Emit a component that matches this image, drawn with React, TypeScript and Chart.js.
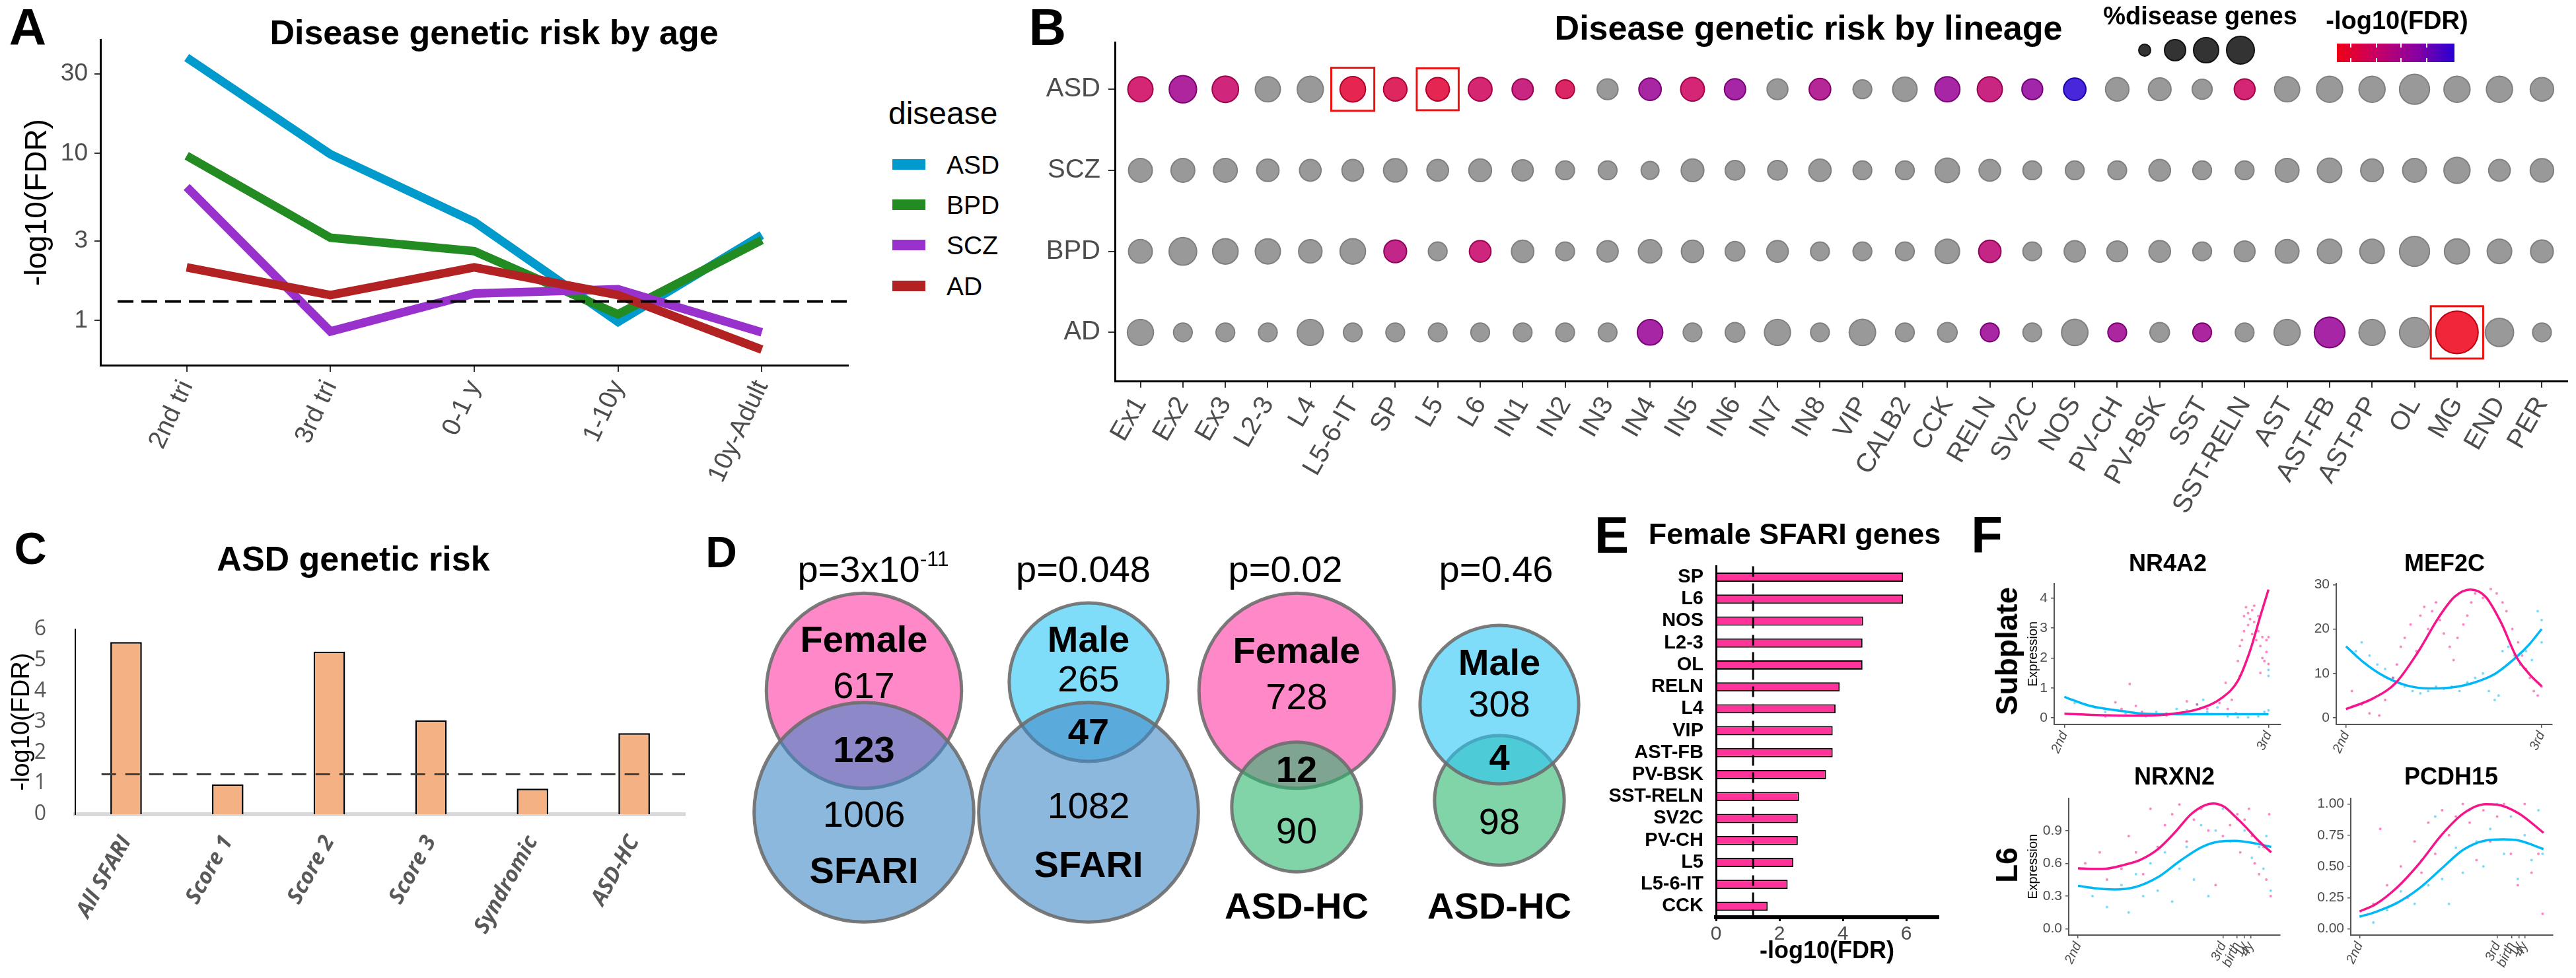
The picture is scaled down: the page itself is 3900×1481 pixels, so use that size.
import React, { useEffect, useRef } from "react";
import { Chart, registerables } from "chart.js";

Chart.register(...registerables);

const SANS = "'Liberation Sans', Arial, Helvetica, sans-serif";
const SEGOE = "'Open Sans', 'Noto Sans', sans-serif";
Chart.defaults.font.family = SANS;

type Pt = [number, number];

// ---------------- Panel A: disease genetic risk by age ----------------
const AGE_STAGES = ["2nd tri", "3rd tri", "0-1 y", "1-10y", "10y-Adult"];
const DISEASES = ["ASD", "BPD", "SCZ", "AD"];
const DISEASE_COLORS = ["#009ACD", "#228B22", "#9932CC", "#B22222"];
const RISK_ASD = [37.6, 9.9, 3.9, 0.98, 3.25];
const RISK_BPD = [9.7, 3.13, 2.6, 1.09, 3.03];
const RISK_SCZ = [6.3, 0.86, 1.45, 1.54, 0.85];
const RISK_AD = [2.08, 1.42, 2.08, 1.42, 0.67];
const AGE_SERIES = [RISK_ASD, RISK_BPD, RISK_SCZ, RISK_AD];
const AGE_Y_TICKS = [1, 3, 10, 30];
const FDR_LINE = 1.3;

// ---------------- Panel B: disease genetic risk by lineage ----------------
const LINEAGES = ["Ex1", "Ex2", "Ex3", "L2-3", "L4", "L5-6-IT", "SP", "L5", "L6", "IN1", "IN2", "IN3", "IN4", "IN5", "IN6", "IN7", "IN8", "VIP", "CALB2", "CCK", "RELN", "SV2C", "NOS", "PV-CH", "PV-BSK", "SST", "SST-RELN", "AST", "AST-FB", "AST-PP", "OL", "MG", "END", "PER"];
const B_ROWS = ["AD", "BPD", "SCZ", "ASD"]; // bottom -> top
// % disease genes per lineage
const PCT_ASD = [4.0, 4.7, 4.4, 4.0, 4.3, 4.1, 3.5, 3.5, 3.6, 2.9, 2.3, 2.8, 3.2, 3.6, 2.9, 2.8, 3.0, 2.3, 3.8, 4.0, 4.0, 2.8, 3.2, 3.5, 3.3, 2.6, 2.8, 4.0, 4.3, 4.3, 5.6, 4.3, 4.3, 3.5];
const PCT_SCZ = [3.6, 3.6, 3.6, 3.2, 3.0, 3.0, 3.5, 3.0, 3.3, 2.9, 2.3, 2.3, 2.1, 3.3, 2.5, 2.5, 3.2, 2.3, 2.3, 3.8, 3.0, 2.3, 2.3, 2.3, 3.0, 2.3, 2.3, 3.6, 3.8, 3.3, 3.6, 4.3, 3.0, 3.5];
const PCT_BPD = [3.6, 4.8, 4.1, 4.0, 3.5, 4.1, 3.3, 2.3, 3.0, 3.2, 2.3, 2.9, 3.5, 3.2, 2.5, 3.0, 2.3, 2.3, 2.3, 3.8, 3.2, 2.3, 2.9, 2.8, 3.0, 2.3, 2.8, 3.6, 3.8, 3.8, 5.6, 4.0, 3.8, 3.3];
const PCT_AD = [4.3, 2.3, 2.3, 2.3, 4.3, 2.3, 2.3, 2.3, 2.3, 2.3, 2.3, 2.3, 4.1, 2.3, 2.5, 4.3, 2.3, 4.4, 2.3, 2.5, 2.3, 2.3, 4.4, 2.3, 2.5, 2.3, 2.3, 4.3, 5.8, 4.3, 5.6, 10.9, 5.0, 2.3];
// -log10(FDR) where significant (null = not significant, drawn grey)
const N = null;
const SIG_ASD = [3.3, 5.0, 3.5, N, N, 2.1, 2.6, 2.2, 3.2, 3.8, 2.8, N, 5.2, 3.3, 5.3, N, 4.7, N, N, 5.3, 3.8, 5.5, 8.0, N, N, N, 3.3, N, N, N, N, N, N, N];
const SIG_SCZ = [N, N, N, N, N, N, N, N, N, N, N, N, N, N, N, N, N, N, N, N, N, N, N, N, N, N, N, N, N, N, N, N, N, N];
const SIG_BPD = [N, N, N, N, N, N, 4.1, N, 3.6, N, N, N, N, N, N, N, N, N, N, N, 4.0, N, N, N, N, N, N, N, N, N, N, N, N, N];
const SIG_AD = [N, N, N, N, N, N, N, N, N, N, N, N, 5.3, N, N, N, N, N, N, N, 5.2, N, N, 5.1, N, 5.1, N, N, 5.3, N, N, 1.4, N, N];
const B_PCT = [PCT_AD, PCT_BPD, PCT_SCZ, PCT_ASD];
const B_SIG = [SIG_AD, SIG_BPD, SIG_SCZ, SIG_ASD];
const HIGHLIGHTS: [string, string][] = [["ASD", "L5-6-IT"], ["ASD", "L5"], ["AD", "MG"]];
const SIZE_LEGEND_PCT = [1, 3, 4, 5];
const FDR_COLOR_MIN = 1.3;
const FDR_COLOR_MAX = 8.0;

// ---------------- Panel C: ASD genetic risk ----------------
const SFARI_CATS = ["All SFARI", "Score 1", "Score 2", "Score 3", "Syndromic", "ASD-HC"];
const SFARI_RISK = [5.59, 0.97, 5.28, 3.05, 0.83, 2.63];

// ---------------- Panel D: Venn diagrams ----------------
const VENN_P_BASE = ["3x10", "0.048", "0.02", "0.46"];
const VENN_P_EXP = ["-11", "", "", ""];
const VENN_TOP = ["Female", "Male", "Female", "Male"];
const VENN_TOP_ONLY = [617, 265, 728, 308];
const VENN_OVERLAP = [123, 47, 12, 4];
const VENN_BOTTOM = ["SFARI", "SFARI", "ASD-HC", "ASD-HC"];
const VENN_BOTTOM_ONLY = [1006, 1082, 90, 98];

// ---------------- Panel E: female SFARI genes ----------------
const E_LINEAGES = ["SP", "L6", "NOS", "L2-3", "OL", "RELN", "L4", "VIP", "AST-FB", "PV-BSK", "SST-RELN", "SV2C", "PV-CH", "L5", "L5-6-IT", "CCK"];
const E_RISK = [5.9, 5.9, 4.64, 4.62, 4.62, 3.9, 3.77, 3.68, 3.68, 3.47, 2.62, 2.58, 2.58, 2.44, 2.26, 1.63];
const E_LINE = 1.17;

// ---------------- Panel F: expression trajectories ----------------
const SUBPLATE_X_TICKS = [0, 1];
const SUBPLATE_X_LABELS = ["2nd", "3rd"];
const L6_X_LABELS = ["2nd", "3rd", "birth", "1y", "4y"];
const NRXN2_X_TICKS = [0, 1, 1.099, 1.149, 1.191];
const PCDH15_X_TICKS = [0, 1, 1.106, 1.157, 1.2];

const NR4A2_PINK_FIT: Pt[] = [[0, 0.14], [0.18, 0.09], [0.39, 0.07], [0.56, 0.16], [0.66, 0.3], [0.77, 0.66], [0.85, 1.24], [0.91, 2.25], [0.96, 3.4], [1, 4.29]];
const NR4A2_BLUE_FIT: Pt[] = [[0, 0.7], [0.12, 0.41], [0.29, 0.22], [0.39, 0.14], [0.61, 0.12], [0.82, 0.12], [1, 0.12]];
const NR4A2_PINK_DOTS: Pt[] = [[0.2, 0.05], [0.25, 0.52], [0.28, 0.3], [0.32, 1.13], [0.35, 0.4], [0.38, 0.2], [0.45, 0.1], [0.5, 0.08], [0.55, 0.15], [0.6, 0.55], [0.65, 0.45], [0.7, 0.3], [0.72, 0.12], [0.76, 0.5], [0.79, 1.17], [0.8, 0.3], [0.82, 0.6], [0.84, 0.15], [0.85, 1.9], [0.86, 1.4], [0.86, 2.4], [0.87, 2.6], [0.88, 3.4], [0.88, 2.9], [0.89, 3.7], [0.9, 3.5], [0.9, 3.1], [0.91, 3.3], [0.92, 2.8], [0.92, 3.6], [0.93, 3.2], [0.93, 3.75], [0.94, 2.6], [0.95, 3.4], [0.95, 2.9], [0.96, 1.5], [0.96, 2.4], [0.97, 2.0], [0.97, 2.7], [0.98, 1.9], [0.99, 2.6], [0.99, 2.2], [1.0, 2.7], [1.0, 1.8]];
const NR4A2_BLUE_DOTS: Pt[] = [[0.05, 0.5], [0.1, 0.45], [0.15, 0.35], [0.2, 0.2], [0.3, 0.15], [0.4, 0.05], [0.45, 0.2], [0.5, 0.15], [0.55, 0.3], [0.6, 0.25], [0.65, 0.45], [0.68, 0.6], [0.7, 0.2], [0.75, 0.35], [0.8, 0.05], [0.85, 0.02], [0.9, 0.02], [0.95, 0.05], [0.98, 0.2], [1.0, 0.25], [1.0, 1.4], [1.0, 1.6]];

const MEF2C_PINK_FIT: Pt[] = [[0, 1.95], [0.14, 4.4], [0.253, 7.8], [0.365, 14.6], [0.478, 22.9], [0.556, 27.3], [0.635, 28.9], [0.713, 27.3], [0.792, 21.5], [0.871, 13.7], [0.938, 9.8], [1.0, 7.1]];
const MEF2C_BLUE_FIT: Pt[] = [[0, 16.1], [0.084, 12.7], [0.197, 9.3], [0.309, 7.3], [0.421, 6.6], [0.534, 6.8], [0.646, 7.8], [0.758, 9.8], [0.871, 13.7], [0.938, 16.6], [1.0, 20.0]];
const MEF2C_PINK_DOTS: Pt[] = [[0.03, 6], [0.08, 3], [0.12, 1], [0.17, 0.5], [0.2, 4], [0.24, 9], [0.26, 12], [0.28, 16], [0.3, 18], [0.33, 21], [0.36, 15], [0.38, 23], [0.4, 25], [0.42, 20], [0.44, 24], [0.46, 26], [0.48, 22], [0.5, 19], [0.53, 16], [0.55, 13], [0.57, 18], [0.6, 21], [0.62, 23], [0.64, 26], [0.66, 28], [0.7, 27], [0.74, 29], [0.77, 28], [0.8, 26], [0.82, 24], [0.85, 20], [0.88, 17], [0.9, 14], [0.92, 11], [0.94, 9], [0.96, 6], [0.98, 5], [1.0, 7]];
const MEF2C_BLUE_DOTS: Pt[] = [[0.05, 15], [0.08, 17], [0.12, 14], [0.16, 12], [0.2, 11], [0.24, 9], [0.3, 7], [0.34, 6], [0.38, 5.5], [0.42, 6], [0.46, 7], [0.5, 6.5], [0.54, 7], [0.58, 6], [0.62, 8], [0.66, 9], [0.7, 10], [0.73, 6], [0.76, 4], [0.78, 5], [0.8, 15], [0.83, 16], [0.86, 14], [0.89, 12], [0.92, 15], [0.95, 13], [0.98, 24], [1.0, 22], [1.0, 17]];

const NRXN2_PINK_FIT: Pt[] = [[0, 0.553], [0.172, 0.549], [0.324, 0.588], [0.43, 0.632], [0.552, 0.73], [0.673, 0.89], [0.78, 1.05], [0.871, 1.13], [0.932, 1.149], [1.008, 1.12], [1.084, 1.03], [1.16, 0.93], [1.236, 0.82], [1.334, 0.7]];
const NRXN2_BLUE_FIT: Pt[] = [[0, 0.394], [0.126, 0.37], [0.248, 0.36], [0.4, 0.384], [0.552, 0.473], [0.704, 0.622], [0.856, 0.75], [0.977, 0.8], [1.084, 0.807], [1.236, 0.78], [1.334, 0.75]];
const NRXN2_PINK_DOTS: Pt[] = [[0.05, 0.6], [0.15, 0.7], [0.2, 0.45], [0.3, 0.55], [0.35, 0.85], [0.4, 0.7], [0.45, 0.5], [0.5, 1.1], [0.55, 0.75], [0.6, 0.95], [0.65, 1.05], [0.7, 1.14], [0.75, 0.8], [0.8, 1.0], [0.85, 1.1], [0.9, 0.9], [0.95, 0.4], [1.0, 0.85], [1.05, 0.95], [1.1, 1.05], [1.12, 0.7], [1.15, 1.0], [1.18, 1.1], [1.2, 0.85], [1.22, 0.6], [1.25, 0.5], [1.28, 0.75], [1.3, 0.45], [1.32, 1.05], [1.33, 0.3]];
const NRXN2_BLUE_DOTS: Pt[] = [[0.1, 0.3], [0.2, 0.2], [0.3, 0.4], [0.35, 0.15], [0.4, 0.5], [0.45, 0.3], [0.5, 0.6], [0.55, 0.35], [0.6, 0.7], [0.65, 0.25], [0.7, 0.55], [0.75, 0.75], [0.8, 0.45], [0.85, 0.95], [0.9, 0.3], [0.95, 0.9], [1.0, 1.1], [1.05, 0.8], [1.1, 1.0], [1.15, 0.9], [1.2, 0.65], [1.25, 0.75], [1.28, 0.55], [1.3, 0.85], [1.33, 0.35]];

const PCDH15_PINK_FIT: Pt[] = [[0, 0.139], [0.115, 0.196], [0.276, 0.335], [0.436, 0.526], [0.596, 0.752], [0.756, 0.925], [0.917, 0.998], [0.997, 0.995], [1.157, 0.925], [1.337, 0.769]];
const PCDH15_BLUE_FIT: Pt[] = [[0, 0.097], [0.115, 0.135], [0.276, 0.21], [0.436, 0.326], [0.596, 0.483], [0.756, 0.635], [0.917, 0.708], [1.045, 0.717], [1.157, 0.708], [1.337, 0.639]];
const PCDH15_PINK_DOTS: Pt[] = [[0.1, 0.2], [0.15, 0.8], [0.2, 0.35], [0.3, 0.5], [0.35, 0.25], [0.4, 0.7], [0.45, 0.45], [0.5, 0.85], [0.55, 0.6], [0.6, 0.95], [0.65, 0.75], [0.7, 0.9], [0.75, 1.0], [0.8, 0.85], [0.85, 0.55], [0.9, 0.95], [0.95, 0.7], [1.0, 0.9], [1.05, 1.0], [1.1, 0.6], [1.15, 0.35], [1.2, 1.0], [1.25, 0.45], [1.3, 0.6], [1.33, 0.12]];
const PCDH15_BLUE_DOTS: Pt[] = [[0.1, 0.05], [0.2, 0.15], [0.3, 0.3], [0.4, 0.2], [0.45, 0.55], [0.5, 0.35], [0.55, 0.9], [0.6, 0.4], [0.65, 0.2], [0.7, 0.65], [0.75, 0.45], [0.8, 0.95], [0.85, 0.7], [0.9, 0.5], [0.95, 0.8], [1.0, 1.0], [1.05, 0.6], [1.1, 0.9], [1.15, 0.4], [1.2, 0.75], [1.25, 0.55], [1.3, 0.95], [1.33, 0.6]];

// ---------------- helpers ----------------
type Geo = { x1: number; y1: number; x2: number; y2: number; yw: number; xh: number; pt: number; pr: number };

function rectOf(g: Geo) {
  const left = g.x1 - g.yw;
  const top = g.y1 - g.pt;
  return { left, top, width: Math.round(g.x2 + g.pr - left), height: Math.round(g.y2 + g.xh - top) };
}

function base(g: Geo): any {
  return {
    animation: false,
    responsive: false,
    maintainAspectRatio: false,
    devicePixelRatio: 1,
    events: [],
    layout: { autoPadding: false, padding: { top: g.pt, right: g.pr, bottom: 0, left: 0 } },
    plugins: { legend: { display: false }, tooltip: { enabled: false } },
  };
}

const tickGrid = (len: number, color = "#333", lw = 2) => ({
  display: true, drawOnChartArea: false, drawTicks: true, tickLength: len, color, lineWidth: lw,
});

function radiusFromPct(p: number) {
  return 10 * Math.sqrt(p) - 1;
}

const COLOR_STOPS: [number, number[]][] = [[0, [240, 0, 20]], [0.33, [200, 0, 100]], [0.66, [140, 0, 160]], [1, [40, 0, 210]]];
function fdrColor(v: number, a: number, k = 1) {
  const t = Math.max(0, Math.min(1, (v - FDR_COLOR_MIN) / (FDR_COLOR_MAX - FDR_COLOR_MIN)));
  let i = 0;
  while (i < COLOR_STOPS.length - 2 && t > COLOR_STOPS[i + 1][0]) i++;
  const [t0, c0] = COLOR_STOPS[i];
  const [t1, c1] = COLOR_STOPS[i + 1];
  const f = (t - t0) / (t1 - t0);
  const c = c0.map((x, j) => Math.round((x + (c1[j] - x) * f) * k));
  return `rgba(${c[0]},${c[1]},${c[2]},${a})`;
}

function vennRadius(n: number) {
  return 68.9 + 2.9 * Math.sqrt(n);
}
const SET_FILL: Record<string, string> = {
  Female: "rgba(255,57,163,0.6)",
  Male: "rgba(43,198,247,0.6)",
  SFARI: "rgba(65,137,200,0.6)",
  "ASD-HC": "rgba(43,183,110,0.6)",
};
// layout of the venn diagrams (page px)
const VENN_CX = [1308, 1648, 1963, 2270];
const VENN_TOP_CY = [1046, 1033, 1046, 1067];
const VENN_BOT_CY = [1230, 1230, 1222, 1212];
const VENN_TOP_ON_TOP = [false, false, false, true];
const VENN_P_X = [1322, 1640, 1946, 2265];
const VENN_Y_TOPNAME = [968, 968, 985, 1003];
const VENN_Y_TOPONLY = [1038, 1028, 1055, 1066];
const VENN_Y_OVERLAP = [1135, 1108, 1165, 1147];
const VENN_Y_BOTONLY = [1233, 1220, 1258, 1244];
const VENN_Y_BOTNAME = [1318, 1309, 1372, 1372];

const refLinePlugin = {
  id: "refLine",
  afterDatasetsDraw(chart: any, _args: any, opts: any) {
    if (!opts || opts.value == null) return;
    const { ctx, chartArea: a, scales } = chart;
    ctx.save();
    ctx.strokeStyle = opts.color;
    ctx.lineWidth = opts.width;
    ctx.setLineDash([...(opts.dash || [])]);
    ctx.beginPath();
    if (opts.axis === "y") {
      const y = scales.y.getPixelForValue(opts.value);
      const xs = a.left + (opts.fromFrac || 0) * (a.right - a.left);
      ctx.moveTo(xs, y);
      ctx.lineTo(a.right, y);
    } else {
      const x = scales.x.getPixelForValue(opts.value);
      ctx.moveTo(x, a.top);
      ctx.lineTo(x, a.bottom);
    }
    ctx.stroke();
    ctx.restore();
  },
};

const boxPlugin = {
  id: "cellBoxes",
  afterDatasetsDraw(chart: any) {
    const { ctx, scales } = chart;
    ctx.save();
    ctx.strokeStyle = "#EE1111";
    ctx.lineWidth = 3;
    HIGHLIGHTS.forEach(([row, lin]) => {
      const ri = B_ROWS.indexOf(row);
      const ci = LINEAGES.indexOf(lin);
      const r = radiusFromPct(B_PCT[ri][ci]);
      const h = 22 + 0.55 * r;
      const px = scales.x.getPixelForValue(ci);
      const py = scales.y.getPixelForValue(ri + 1);
      ctx.strokeRect(px - h, py - h, 2 * h, 2 * h);
    });
    ctx.restore();
  },
};

const F_PINK = "#F5148A";
const F_BLUE = "#00B8F5";

type FPanel = {
  gene: string; pinkFit: Pt[]; blueFit: Pt[]; pinkDots: Pt[]; blueDots: Pt[];
  yTicks: number[]; yDec: number; xTicks: number[]; xLabels: string[];
  ymin: number; ymax: number; xmin: number; xmax: number; geo: Geo; yTitle: boolean; titleX: number; titleY: number;
};

const F_PANELS: FPanel[] = [
  { gene: "NR4A2", pinkFit: NR4A2_PINK_FIT, blueFit: NR4A2_BLUE_FIT, pinkDots: NR4A2_PINK_DOTS, blueDots: NR4A2_BLUE_DOTS, yTicks: [0, 1, 2, 3, 4], yDec: 0, xTicks: SUBPLATE_X_TICKS, xLabels: SUBPLATE_X_LABELS, ymin: -0.22, ymax: 4.49, xmin: -0.05, xmax: 1.06, geo: { x1: 3110, y1: 880, x2: 3453, y2: 1097, yw: 48, xh: 60, pt: 14, pr: 14 }, yTitle: true, titleX: 3282, titleY: 853 },
  { gene: "MEF2C", pinkFit: MEF2C_PINK_FIT, blueFit: MEF2C_BLUE_FIT, pinkDots: MEF2C_PINK_DOTS, blueDots: MEF2C_BLUE_DOTS, yTicks: [0, 10, 20, 30], yDec: 0, xTicks: SUBPLATE_X_TICKS, xLabels: SUBPLATE_X_LABELS, ymin: -1.5, ymax: 30.25, xmin: -0.05, xmax: 1.054, geo: { x1: 3537, y1: 880, x2: 3864, y2: 1097, yw: 50, xh: 60, pt: 14, pr: 20 }, yTitle: false, titleX: 3701, titleY: 853 },
  { gene: "NRXN2", pinkFit: NRXN2_PINK_FIT, blueFit: NRXN2_BLUE_FIT, pinkDots: NRXN2_PINK_DOTS, blueDots: NRXN2_BLUE_DOTS, yTicks: [0, 0.3, 0.6, 0.9], yDec: 1, xTicks: NRXN2_X_TICKS, xLabels: L6_X_LABELS, ymin: -0.058, ymax: 1.198, xmin: -0.064, xmax: 1.395, geo: { x1: 3132, y1: 1205, x2: 3452, y2: 1416, yw: 70, xh: 60, pt: 14, pr: 14 }, yTitle: true, titleX: 3292, titleY: 1176 },
  { gene: "PCDH15", pinkFit: PCDH15_PINK_FIT, blueFit: PCDH15_BLUE_FIT, pinkDots: PCDH15_PINK_DOTS, blueDots: PCDH15_BLUE_DOTS, yTicks: [0, 0.25, 0.5, 0.75, 1.0], yDec: 2, xTicks: PCDH15_X_TICKS, xLabels: L6_X_LABELS, ymin: -0.05, ymax: 1.047, xmin: -0.064, xmax: 1.405, geo: { x1: 3559, y1: 1205, x2: 3865, y2: 1416, yw: 70, xh: 60, pt: 14, pr: 20 }, yTitle: false, titleX: 3711, titleY: 1176 },
];

type Spec = { rect: { left: number; top: number; width: number; height: number }; config: any };

function buildSpecs(): Spec[] {
  const specs: Spec[] = [];

  // ---- A ----
  const gA: Geo = { x1: 152, y1: 58, x2: 1284, y2: 553, yw: 152, xh: 200, pt: 30, pr: 20 };
  const oA = base(gA);
  oA.plugins.refLine = { axis: "y", value: FDR_LINE, fromFrac: 0.023, color: "#000", width: 4, dash: [24, 12] };
  oA.scales = {
    x: {
      type: "linear", min: -0.6, max: 4.6,
      afterBuildTicks: (s: any) => { s.ticks = AGE_STAGES.map((_, i) => ({ value: i })); },
      afterFit: (s: any) => { s.height = gA.xh; },
      ticks: { autoSkip: false, minRotation: 65, maxRotation: 65, padding: 6, color: "#4D4D4D", font: { size: 39 }, callback: (v: any) => AGE_STAGES[v] ?? "" },
      grid: tickGrid(10), border: { display: true, color: "#000", width: 3 },
    },
    y: {
      type: "logarithmic", min: 0.54, max: 48,
      afterBuildTicks: (s: any) => { s.ticks = AGE_Y_TICKS.map((v) => ({ value: v })); },
      afterFit: (s: any) => { s.width = gA.yw; },
      ticks: { padding: 10, color: "#4D4D4D", font: { size: 37 }, callback: (v: any) => String(v) },
      grid: tickGrid(9), border: { display: true, color: "#000", width: 3 },
      title: { display: true, text: "-log10(FDR)", color: "#000", font: { size: 46 }, padding: { top: 30, bottom: 0 } },
    },
  };
  specs.push({
    rect: rectOf(gA),
    config: {
      type: "line",
      data: {
        datasets: AGE_SERIES.map((s, i) => ({
          label: DISEASES[i], data: s.map((v, j) => ({ x: j, y: v })),
          borderColor: DISEASE_COLORS[i], backgroundColor: DISEASE_COLORS[i], borderWidth: 13,
          pointRadius: 0, tension: 0, fill: false, order: 4 - i,
        })),
      },
      options: oA,
      plugins: [refLinePlugin],
    },
  });

  // ---- B ----
  const gB: Geo = { x1: 1688, y1: 58, x2: 3887, y2: 577, yw: 128, xh: 203, pt: 30, pr: 25 };
  const oB = base(gB);
  oB.scales = {
    x: {
      type: "linear", min: -0.6, max: 33.6,
      afterBuildTicks: (s: any) => { s.ticks = LINEAGES.map((_, i) => ({ value: i })); },
      afterFit: (s: any) => { s.height = gB.xh; },
      ticks: { autoSkip: false, minRotation: 60, maxRotation: 60, padding: 6, color: "#4D4D4D", font: { size: 40 }, callback: (v: any) => LINEAGES[v] ?? "" },
      grid: tickGrid(10), border: { display: true, color: "#000", width: 3 },
    },
    y: {
      type: "linear", min: 0.4, max: 4.58,
      afterBuildTicks: (s: any) => { s.ticks = B_ROWS.map((_, i) => ({ value: i + 1 })); },
      afterFit: (s: any) => { s.width = gB.yw; },
      ticks: { padding: 12, color: "#4D4D4D", font: { size: 40 }, callback: (v: any) => B_ROWS[v - 1] ?? "" },
      grid: tickGrid(10), border: { display: true, color: "#000", width: 3 },
    },
  };
  specs.push({
    rect: rectOf(gB),
    config: {
      type: "bubble",
      data: {
        datasets: B_ROWS.map((row, ri) => ({
          label: row,
          data: LINEAGES.map((_, i) => ({ x: i, y: ri + 1, r: radiusFromPct(B_PCT[ri][i]) })),
          backgroundColor: B_SIG[ri].map((v) => (v == null ? "#999999" : fdrColor(v, 0.85))),
          borderColor: B_SIG[ri].map((v) => (v == null ? "#808080" : fdrColor(v, 1, 0.8))),
          borderWidth: 2,
          clip: false,
        })),
      },
      options: oB,
      plugins: [boxPlugin],
    },
  });

  // ---- C ----
  const gC: Geo = { x1: 114, y1: 923, x2: 1037, y2: 1233, yw: 114, xh: 237, pt: 25, pr: 20 };
  const oC = base(gC);
  oC.plugins.refLine = { axis: "y", value: FDR_LINE, fromFrac: 0.043, color: "#404040", width: 3, dash: [22, 14] };
  oC.scales = {
    x: {
      type: "category",
      afterFit: (s: any) => { s.height = gC.xh; },
      grid: { display: false }, border: { display: true, color: "#D9D9D9", width: 6 },
      ticks: { autoSkip: false, minRotation: 61, maxRotation: 61, padding: 18, color: "#595959", font: { family: SEGOE, size: 33, weight: "bold", style: "italic" } },
    },
    y: {
      min: 0, max: 6,
      afterFit: (s: any) => { s.width = gC.yw; },
      ticks: { stepSize: 1, padding: 36, color: "#595959", font: { family: SEGOE, size: 32 } },
      grid: { display: false }, border: { display: true, color: "#000", width: 2 },
      title: { display: true, text: "-log10(FDR)", color: "#000", font: { size: 38 }, padding: { top: 11, bottom: 0 } },
    },
  };
  specs.push({
    rect: rectOf(gC),
    config: {
      type: "bar",
      data: { labels: SFARI_CATS, datasets: [{ data: SFARI_RISK, backgroundColor: "#F4B183", borderColor: "#000", borderWidth: 2.5, barPercentage: 0.31, categoryPercentage: 1 }] },
      options: oC,
      plugins: [refLinePlugin],
    },
  });

  // ---- D (venn circles) ----
  const gD: Geo = { x1: 1100, y1: 820, x2: 2420, y2: 1420, yw: 0, xh: 0, pt: 0, pr: 0 };
  const oD = base(gD);
  oD.scales = {
    x: { type: "linear", min: 1100, max: 2420, display: false },
    y: { type: "linear", min: 820, max: 1420, reverse: true, display: false },
  };
  specs.push({
    rect: rectOf(gD),
    config: {
      type: "bubble",
      data: {
        datasets: VENN_TOP.map((topName, g) => {
          const top = { x: VENN_CX[g], y: VENN_TOP_CY[g], r: vennRadius(VENN_TOP_ONLY[g] + VENN_OVERLAP[g]) };
          const bot = { x: VENN_CX[g], y: VENN_BOT_CY[g], r: vennRadius(VENN_BOTTOM_ONLY[g] + VENN_OVERLAP[g]) };
          const topFirst = !VENN_TOP_ON_TOP[g];
          return {
            data: topFirst ? [top, bot] : [bot, top],
            backgroundColor: topFirst ? [SET_FILL[topName], SET_FILL[VENN_BOTTOM[g]]] : [SET_FILL[VENN_BOTTOM[g]], SET_FILL[topName]],
            borderColor: "rgba(110,110,110,0.9)",
            borderWidth: 5,
            clip: false,
          };
        }),
      },
      options: oD,
    },
  });

  // ---- E ----
  const gE: Geo = { x1: 2598, y1: 839, x2: 2934, y2: 1389, yw: 178, xh: 86, pt: 10, pr: 20 };
  const oE = base(gE);
  oE.indexAxis = "y";
  oE.plugins.refLine = { axis: "x", value: E_LINE, color: "#000", width: 3, dash: [16, 10] };
  oE.scales = {
    x: {
      type: "linear", min: 0, max: 7,
      afterBuildTicks: (s: any) => { s.ticks = [0, 2, 4, 6].map((v) => ({ value: v })); },
      afterFit: (s: any) => { s.height = gE.xh; },
      ticks: { padding: 2, color: "#4D4D4D", font: { size: 30 } },
      grid: tickGrid(6, "#000", 3), border: { display: true, color: "#000", width: 6 },
      title: { display: true, text: "-log10(FDR)", color: "#000", font: { size: 36, weight: "bold" }, padding: { top: 0, bottom: 12 } },
    },
    y: {
      type: "category",
      afterFit: (s: any) => { s.width = gE.yw; },
      grid: { display: false }, border: { display: true, color: "#000", width: 3 },
      ticks: { autoSkip: false, padding: 11, color: "#000", font: { size: 29, weight: "bold" } },
    },
  };
  specs.push({
    rect: rectOf(gE),
    config: {
      type: "bar",
      data: { labels: E_LINEAGES, datasets: [{ data: E_RISK, backgroundColor: "#FF3399", borderColor: "#000", borderWidth: 2, barPercentage: 0.42, categoryPercentage: 1 }] },
      options: oE,
      plugins: [refLinePlugin],
    },
  });

  // ---- F ----
  F_PANELS.forEach((p) => {
    const g = p.geo;
    const o = base(g);
    o.scales = {
      x: {
        type: "linear", min: p.xmin, max: p.xmax,
        afterBuildTicks: (s: any) => { s.ticks = p.xTicks.map((v) => ({ value: v })); },
        afterFit: (s: any) => { s.height = g.xh; },
        ticks: { autoSkip: false, minRotation: 65, maxRotation: 65, padding: 2, color: "#4D4D4D", font: { size: 20, style: "italic" }, callback: (_v: any, i: number) => p.xLabels[i] ?? "" },
        grid: tickGrid(5, "#555", 1.5), border: { display: true, color: "#555", width: 2 },
      },
      y: {
        type: "linear", min: p.ymin, max: p.ymax,
        afterBuildTicks: (s: any) => { s.ticks = p.yTicks.map((v) => ({ value: v })); },
        afterFit: (s: any) => { s.width = g.yw; },
        ticks: { padding: 5, color: "#4D4D4D", font: { size: 21 }, callback: (v: any) => Number(v).toFixed(p.yDec) },
        grid: tickGrid(5, "#555", 1.5), border: { display: true, color: "#555", width: 2 },
        title: { display: p.yTitle, text: "Expression", color: "#000", font: { size: 20 }, padding: { top: 4, bottom: 0 } },
      },
    };
    const dots = (pts: Pt[], color: string) => ({
      type: "scatter", data: pts.map(([x, y]) => ({ x, y })), pointRadius: 2, pointBorderWidth: 0,
      backgroundColor: color, borderColor: color, order: 2,
    });
    const curve = (pts: Pt[], color: string) => ({
      type: "line", data: pts.map(([x, y]) => ({ x, y })), borderColor: color, backgroundColor: color,
      borderWidth: 3.5, pointRadius: 0, cubicInterpolationMode: "monotone", fill: false, order: 0,
    });
    specs.push({
      rect: rectOf(g),
      config: {
        type: "scatter",
        data: {
          datasets: [
            dots(p.pinkDots, "rgba(245,20,138,0.5)"),
            dots(p.blueDots, "rgba(0,184,245,0.5)"),
            curve(p.pinkFit, F_PINK),
            curve(p.blueFit, F_BLUE),
          ],
        },
        options: o,
      },
    });
  });

  return specs;
}

// ---------------- HTML text ----------------
type LabelProps = {
  x: number; y: number; size: number; bold?: boolean; color?: string; anchor?: "start" | "middle" | "end";
  rotate?: number; family?: string; children: React.ReactNode;
};
function Label({ x, y, size, bold, color = "#000", anchor = "middle", rotate = 0, family = SANS, children }: LabelProps) {
  const tx = anchor === "middle" ? "-50%" : anchor === "end" ? "-100%" : "0%";
  return (
    <div
      style={{
        position: "absolute", left: x, top: y,
        transform: `translate(${tx},-50%)${rotate ? ` rotate(${rotate}deg)` : ""}`,
        fontSize: size, fontWeight: bold ? 700 : 400, color, fontFamily: family,
        lineHeight: 1, whiteSpace: "nowrap",
      }}
    >
      {children}
    </div>
  );
}

const SPECS = buildSpecs();

export default function App() {
  const refs = useRef<(HTMLCanvasElement | null)[]>([]);

  useEffect(() => {
    const charts = SPECS.map((s, i) => new Chart(refs.current[i] as HTMLCanvasElement, s.config));
    return () => charts.forEach((c) => c.destroy());
  }, []);

  const sizeLegendX = [3247, 3293, 3340, 3392];
  const legendY = [249, 310, 371, 433];

  return (
    <div style={{ position: "absolute", left: 0, top: 0, width: 3900, height: 1481, background: "#fff", overflow: "hidden", fontFamily: SANS }}>
      {SPECS.map((s, i) => (
        <canvas
          key={i}
          ref={(el) => { refs.current[i] = el; }}
          width={s.rect.width}
          height={s.rect.height}
          style={{ position: "absolute", left: s.rect.left, top: s.rect.top, width: s.rect.width, height: s.rect.height }}
        />
      ))}

      {/* panel letters */}
      <Label x={42} y={41} size={78} bold>A</Label>
      <Label x={1586} y={41} size={78} bold>B</Label>
      <Label x={46} y={830} size={68} bold>C</Label>
      <Label x={1092} y={836} size={66} bold>D</Label>
      <Label x={2440} y={810} size={78} bold>E</Label>
      <Label x={3008} y={810} size={78} bold>F</Label>

      {/* titles */}
      <Label x={748} y={49} size={52} bold>Disease genetic risk by age</Label>
      <Label x={2738} y={42} size={52} bold>Disease genetic risk by lineage</Label>
      <Label x={535} y={846} size={52} bold>ASD genetic risk</Label>
      <Label x={2717} y={808} size={45} bold>Female SFARI genes</Label>

      {/* legend A */}
      <Label x={1345} y={172} size={48} anchor="start">disease</Label>
      {DISEASES.map((d, i) => (
        <React.Fragment key={d}>
          <div style={{ position: "absolute", left: 1351, top: legendY[i] - 8, width: 50, height: 16, background: DISEASE_COLORS[i] }} />
          <Label x={1433} y={legendY[i]} size={39} anchor="start">{d}</Label>
        </React.Fragment>
      ))}

      {/* legend B */}
      <Label x={3331} y={24} size={38} bold>%disease genes</Label>
      {SIZE_LEGEND_PCT.map((p, i) => {
        const r = radiusFromPct(p) + 1;
        return (
          <div key={p} style={{ position: "absolute", left: sizeLegendX[i] - r, top: 76 - r, width: 2 * r, height: 2 * r, borderRadius: "50%", background: "#333", boxSizing: "border-box", border: "2px solid #111" }} />
        );
      })}
      <Label x={3629} y={31} size={38} bold>-log10(FDR)</Label>
      <div style={{ position: "absolute", left: 3538, top: 66, width: 178, height: 28, background: `linear-gradient(to right, ${fdrColor(FDR_COLOR_MIN, 1)}, ${fdrColor(FDR_COLOR_MIN + 0.33 * (FDR_COLOR_MAX - FDR_COLOR_MIN), 1)}, ${fdrColor(FDR_COLOR_MIN + 0.66 * (FDR_COLOR_MAX - FDR_COLOR_MIN), 1)}, ${fdrColor(FDR_COLOR_MAX, 1)})` }}>
        {[0.11, 0.33, 0.54, 0.76].map((f) => (
          <React.Fragment key={f}>
            <div style={{ position: "absolute", left: f * 178, top: 0, width: 2, height: 6, background: "#fff" }} />
            <div style={{ position: "absolute", left: f * 178, bottom: 0, width: 2, height: 6, background: "#fff" }} />
          </React.Fragment>
        ))}
      </div>

      {/* venn texts */}
      {VENN_TOP.map((t, g) => (
        <React.Fragment key={g}>
          <Label x={VENN_P_X[g]} y={862} size={56}>
            p={VENN_P_BASE[g]}
            {VENN_P_EXP[g] ? <span style={{ fontSize: 32, position: "relative", top: -24 }}>{VENN_P_EXP[g]}</span> : null}
          </Label>
          <Label x={VENN_CX[g]} y={VENN_Y_TOPNAME[g]} size={56} bold>{t}</Label>
          <Label x={VENN_CX[g]} y={VENN_Y_TOPONLY[g]} size={56}>{VENN_TOP_ONLY[g]}</Label>
          <Label x={VENN_CX[g]} y={VENN_Y_OVERLAP[g]} size={56} bold>{VENN_OVERLAP[g]}</Label>
          <Label x={VENN_CX[g]} y={VENN_Y_BOTONLY[g]} size={56}>{VENN_BOTTOM_ONLY[g]}</Label>
          <Label x={VENN_CX[g]} y={VENN_Y_BOTNAME[g]} size={56} bold>{VENN_BOTTOM[g]}</Label>
        </React.Fragment>
      ))}

      {/* F titles and row labels */}
      {F_PANELS.map((p) => (
        <Label key={p.gene} x={p.titleX} y={p.titleY} size={36} bold>{p.gene}</Label>
      ))}
      <Label x={3038} y={986} size={46} bold rotate={-90}>Subplate</Label>
      <Label x={3038} y={1310} size={46} bold rotate={-90}>L6</Label>
    </div>
  );
}
